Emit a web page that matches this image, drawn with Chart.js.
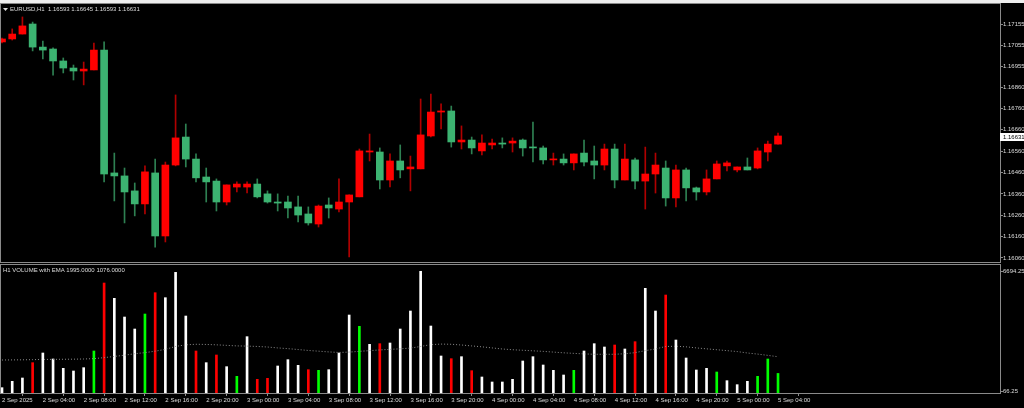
<!DOCTYPE html>
<html>
<head>
<meta charset="utf-8">
<script src="https://cdn.jsdelivr.net/npm/chart.js@4.4.0/dist/chart.umd.min.js"></script>
<style>
  html, body { margin: 0; padding: 0; background: #000; overflow: hidden; }
  #wrap { position: relative; width: 1024px; height: 408px; background: #000; }
  #topStrip { position: absolute; left: 0; top: 0; width: 1024px; height: 3px; background: #eeeeee; }
  #mainChart { position: absolute; left: 0; top: 0; }
  #volChart { position: absolute; left: 0; top: 261px; }
</style>
</head>
<body>
<div id="wrap">
  <div id="topStrip"></div>
  <canvas id="mainChart" width="1024" height="266"></canvas>
  <canvas id="volChart" width="1024" height="147"></canvas>
</div>
<script>
// ---- DATA (EURUSD H1, 2 Sep 00:00 .. 5 Sep 04:00) ----
const open = [1.17071,1.17085,1.17108,1.17155,1.17047,1.17038,1.16982,1.16949,1.16935,1.16940,
  1.17033,1.16458,1.16444,1.16374,1.16313,1.16458,1.16163,1.16495,1.16626,1.16523,
  1.16439,1.16420,1.16322,1.16392,1.16392,1.16406,1.16360,1.16322,1.16322,1.16299,
  1.16266,1.16219,1.16308,1.16289,1.16322,1.16346,1.16556,1.16556,1.16425,1.16514,
  1.16477,1.16477,1.16631,1.16743,1.16748,1.16603,1.16612,1.16561,1.16589,1.16598,
  1.16598,1.16612,1.16579,1.16575,1.16519,1.16523,1.16505,1.16551,1.16514,1.16495,
  1.16570,1.16425,1.16519,1.16420,1.16453,1.16481,1.16341,1.16472,1.16388,1.16369,
  1.16430,1.16491,1.16472,1.16486,1.16481,1.16556,1.16593];
const high = [1.17089,1.17132,1.17188,1.17164,1.17075,1.17043,1.16996,1.16963,1.16977,1.17066,
  1.17071,1.16551,1.16481,1.16411,1.16491,1.16523,1.16509,1.16823,1.16687,1.16547,
  1.16481,1.16430,1.16402,1.16416,1.16416,1.16430,1.16374,1.16360,1.16350,1.16350,
  1.16299,1.16308,1.16341,1.16430,1.16355,1.16570,1.16640,1.16575,1.16547,1.16589,
  1.16537,1.16804,1.16827,1.16781,1.16771,1.16678,1.16626,1.16636,1.16617,1.16622,
  1.16622,1.16617,1.16696,1.16584,1.16551,1.16547,1.16547,1.16612,1.16584,1.16593,
  1.16593,1.16593,1.16528,1.16579,1.16551,1.16514,1.16495,1.16481,1.16392,1.16472,
  1.16514,1.16514,1.16486,1.16528,1.16575,1.16607,1.16645];
const low = [1.17066,1.17080,1.17108,1.17029,1.16991,1.16916,1.16926,1.16893,1.16870,1.16940,
  1.16416,1.16327,1.16224,1.16257,1.16266,1.16111,1.16135,1.16491,1.16486,1.16416,
  1.16322,1.16280,1.16308,1.16369,1.16364,1.16341,1.16317,1.16280,1.16247,1.16229,
  1.16214,1.16205,1.16247,1.16275,1.16065,1.16346,1.16514,1.16383,1.16392,1.16435,
  1.16374,1.16477,1.16626,1.16664,1.16579,1.16570,1.16547,1.16542,1.16570,1.16575,
  1.16556,1.16537,1.16509,1.16500,1.16495,1.16495,1.16472,1.16491,1.16430,1.16472,
  1.16388,1.16425,1.16383,1.16289,1.16364,1.16303,1.16299,1.16327,1.16331,1.16355,
  1.16430,1.16467,1.16463,1.16472,1.16477,1.16514,1.16593];
const close = [1.17085,1.17108,1.17146,1.17047,1.17033,1.16982,1.16949,1.16935,1.16944,1.17033,
  1.16453,1.16444,1.16369,1.16313,1.16463,1.16163,1.16495,1.16622,1.16523,1.16435,
  1.16416,1.16322,1.16402,1.16406,1.16406,1.16346,1.16322,1.16317,1.16294,1.16261,
  1.16224,1.16303,1.16294,1.16322,1.16355,1.16561,1.16561,1.16425,1.16514,1.16472,
  1.16486,1.16636,1.16743,1.16748,1.16603,1.16612,1.16575,1.16598,1.16598,1.16593,
  1.16607,1.16575,1.16575,1.16519,1.16523,1.16505,1.16547,1.16509,1.16495,1.16570,
  1.16425,1.16523,1.16420,1.16453,1.16495,1.16341,1.16472,1.16388,1.16369,1.16430,
  1.16500,1.16505,1.16486,1.16472,1.16561,1.16593,1.16631];

const volume = [293,642,825,1668,2200,1870,1356,1210,1393,2310,
  6049,5206,4179,3519,4344,5517,5242,6635,4234,2310,
  1668,2090,1448,917,3098,752,807,1485,1833,1521,
  1283,1246,1283,2200,4289,3666,2676,2713,2750,3519,
  4509,6694,3684,2035,1888,1998,1228,880,605,605,
  752,1760,1998,1540,1246,990,1246,2310,2713,2530,
  2640,2420,2823,5756,4509,5389,2914,1925,1265,1356,
  1155,678,458,642,917,1870,1076];
// indicator state per bar: w = normal, r = rising, g = falling
const volState = ['w','w','w','r','w','w','w','w','w','g',
  'r','w','w','w','g','r','w','w','w','r',
  'w','r','w','g','w','r','r','w','w','w',
  'r','g','w','w','w','g','w','r','w','w',
  'w','w','w','w','r','w','r','w','w','w',
  'w','w','w','w','w','w','g','w','w','w',
  'r','w','r','w','w','r','w','w','w','w',
  'g','w','w','w','g','g','g'];
const volEma = [1815,1820,1825,1835,1845,1850,1855,1860,1870,1890,
  1945,2010,2080,2160,2220,2300,2400,2560,2650,2680,
  2670,2650,2620,2590,2580,2560,2530,2480,2440,2390,
  2340,2300,2260,2230,2250,2290,2330,2370,2400,2430,
  2470,2560,2660,2690,2680,2640,2590,2540,2480,2420,
  2380,2350,2320,2290,2250,2210,2180,2150,2130,2130,
  2130,2160,2220,2330,2420,2560,2570,2540,2480,2430,
  2380,2330,2280,2200,2140,2070,1995];

const priceTicks = [1.17155,1.17055,1.16955,1.16860,1.16760,1.16660,1.16560,1.16460,1.16360,1.16260,1.16160,1.16060];
const volTicks = [66.25, 6694.25];
const timeTickBars = [0,4,8,12,16,20,24,28,32,36,40,44,48,52,56,60,64,68,72,76];
const timeLabels = ['2 Sep 2025','2 Sep 04:00','2 Sep 08:00','2 Sep 12:00','2 Sep 16:00','2 Sep 20:00',
  '3 Sep 00:00','3 Sep 04:00','3 Sep 08:00','3 Sep 12:00','3 Sep 16:00','3 Sep 20:00',
  '4 Sep 00:00','4 Sep 04:00','4 Sep 08:00','4 Sep 12:00','4 Sep 16:00','4 Sep 20:00',
  '5 Sep 00:00','5 Sep 04:00'];

// ---- STYLE ----
const BULL = '#ff0000', BEAR = '#3cb371';
const BULL_WICK = '#b00000', BEAR_WICK = '#2e8052';
const FRAME = '#8a8a8a';
const TXT = '#dcdcdc';
const FONT = { family: 'Liberation Sans', size: 6 };
const X_MIN = -0.098, X_MAX = 97.74;

const isBull = i => close[i] >= open[i];
const bodyData = open.map((o, i) => ({ x: i, y: [o, close[i]] }));
const wickData = open.map((o, i) => ({ x: i, y: [low[i], high[i]] }));
const volData = volume.map((v, i) => ({ x: i, y: v }));
const emaData = volEma.map((v, i) => ({ x: i, y: v }));
const volColors = { w: '#ffffff', r: '#ff0000', g: '#00ff00' };

// frame around the chart area + texts
function framePlugin(title, withTriangle) {
  return {
    id: 'frame',
    afterDraw(chart) {
      const { ctx, chartArea: a } = chart;
      ctx.save();
      ctx.strokeStyle = FRAME;
      ctx.lineWidth = 1;
      ctx.strokeRect(0.5, a.top - 0.5, Math.round(a.right) , a.bottom - a.top + 1);
      ctx.fillStyle = TXT;
      ctx.font = '6px "Liberation Sans"';
      ctx.textBaseline = 'middle';
      let tx = 3;
      if (withTriangle) {
        ctx.beginPath();
        ctx.moveTo(3, a.top + 4); ctx.lineTo(8, a.top + 4); ctx.lineTo(5.5, a.top + 7);
        ctx.closePath(); ctx.fill();
        tx = 10;
      }
      ctx.fillText(title, tx, a.top + 5.5);
      ctx.restore();
    }
  };
}

const lastIdx = close.length - 1;
const priceBox = {
  id: 'priceBox',
  afterDraw(chart) {
    const { ctx } = chart;
    const y = chart.scales.y.getPixelForValue(close[lastIdx]);
    ctx.save();
    ctx.fillStyle = '#ffffff';
    ctx.fillRect(1000, Math.round(y) - 3, 24, 8);
    ctx.fillStyle = '#000000';
    ctx.font = '6px "Liberation Sans"';
    ctx.textBaseline = 'middle';
    ctx.fillText(close[lastIdx].toFixed(5), 1003, Math.round(y) + 1);
    ctx.restore();
  }
};

const mainTitle = 'EURUSD,H1  ' + [open, high, low, close].map(a => a[lastIdx].toFixed(5)).join(' ');

new Chart(document.getElementById('mainChart'), {
  type: 'bar',
  data: {
    datasets: [
      { data: bodyData, grouped: false, barThickness: 7, minBarLength: 1,
        backgroundColor: c => isBull(c.dataIndex) ? BULL : BEAR },
      { data: wickData, grouped: false, barThickness: 1,
        backgroundColor: c => isBull(c.dataIndex) ? BULL_WICK : BEAR_WICK }
    ]
  },
  options: {
    responsive: false,
    animation: false,
    layout: { padding: { left: 1, top: 4, right: 0, bottom: 4 } },
    plugins: { legend: { display: false }, tooltip: { enabled: false } },
    scales: {
      x: { type: 'linear', display: false, min: X_MIN, max: X_MAX, offset: false },
      y: {
        position: 'right', min: 1.160412, max: 1.172486,
        afterFit: s => { s.width = 24; },
        afterBuildTicks: s => { s.ticks = priceTicks.map(v => ({ value: v })); },
        ticks: { color: TXT, font: FONT, padding: 0, callback: v => v.toFixed(5) },
        grid: { drawOnChartArea: false, tickLength: 3, color: FRAME },
        border: { display: false }
      }
    }
  },
  plugins: [framePlugin(mainTitle, true), priceBox]
});

new Chart(document.getElementById('volChart'), {
  data: {
    datasets: [
      { type: 'line', data: emaData, borderColor: '#8c8c8c', borderWidth: 1, borderDash: [1, 2],
        pointRadius: 0, tension: 0 },
      { type: 'bar', data: volData, grouped: false, barThickness: 2,
        backgroundColor: c => volColors[volState[c.dataIndex]] }
    ]
  },
  options: {
    responsive: false,
    animation: false,
    layout: { padding: { left: 1, top: 4, right: 0, bottom: 0 } },
    plugins: { legend: { display: false }, tooltip: { enabled: false } },
    scales: {
      x: {
        type: 'linear', min: X_MIN, max: X_MAX, offset: false,
        afterFit: s => { s.height = 15; },
        afterBuildTicks: s => { s.ticks = timeTickBars.map(v => ({ value: v })); },
        ticks: { color: TXT, font: FONT, padding: 1, align: 'start', autoSkip: false, maxRotation: 0,
          callback: (v, i) => timeLabels[i] },
        grid: { drawOnChartArea: false, tickLength: 3, color: FRAME },
        border: { display: false }
      },
      y: {
        position: 'right', min: 0, max: 7040,
        afterFit: s => { s.width = 24; },
        afterBuildTicks: s => { s.ticks = volTicks.map(v => ({ value: v })); },
        ticks: { color: TXT, font: FONT, padding: 0, callback: v => v.toFixed(2) },
        grid: { drawOnChartArea: false, tickLength: 3, color: FRAME },
        border: { display: false }
      }
    }
  },
  plugins: [framePlugin('H1 VOLUME with EMA 1995.0000 1076.0000', false)]
});
</script>
</body>
</html>
